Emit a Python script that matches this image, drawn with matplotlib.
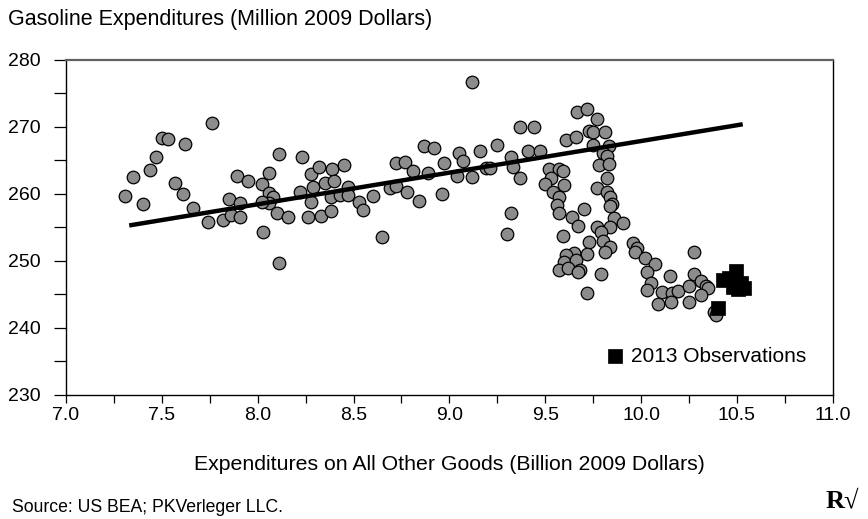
import matplotlib
matplotlib.use("Agg")
import matplotlib.pyplot as plt
from matplotlib.ticker import MultipleLocator, FormatStrFormatter

plt.rcParams['font.family'] = ['Liberation Sans', 'DejaVu Sans']

# Monthly observations: other goods spending (billion 2009 $) vs gasoline spending (million 2009 $)
other_goods = [
    7.31, 7.35, 7.40, 7.44, 7.47, 7.50, 7.53, 7.57, 7.61, 7.62,
    7.66, 7.76, 7.74, 7.82, 7.85, 7.86, 7.91, 7.91, 7.89, 7.95,
    8.02, 8.06, 8.06, 8.08, 8.06, 8.02, 8.10, 8.16, 8.03, 8.11,
    8.11, 8.23, 8.28, 8.32, 8.39, 8.45, 8.22, 8.29, 8.35, 8.40,
    8.47, 8.28, 8.38, 8.43, 8.47, 8.26, 8.33, 8.38, 8.53, 8.55,
    8.60, 8.65, 8.72, 8.77, 8.81, 8.69, 8.72, 8.78, 8.84, 8.87,
    8.92, 9.05, 9.07, 9.16, 9.25, 9.12, 9.37, 9.44, 8.97, 8.89,
    9.04, 9.12, 9.19, 9.21, 9.32, 9.33, 9.37, 9.41, 9.47, 8.96,
    9.32, 9.30, 9.665, 9.72, 9.77, 9.73, 9.75, 9.81, 9.61, 9.66,
    9.75, 9.83, 9.80, 9.82, 9.78, 9.83, 9.82, 9.52, 9.57, 9.59,
    9.53, 9.50, 9.60, 9.54, 9.57, 9.56, 9.57, 9.64, 9.70, 9.67,
    9.59, 9.77, 9.82, 9.84, 9.85, 9.84, 9.86, 9.905, 9.84, 9.77,
    9.79, 9.73, 9.80, 9.84, 9.81, 9.72, 9.65, 9.61, 9.60, 9.66,
    9.57, 9.62, 9.68, 9.67, 9.79, 9.72, 9.96, 9.98, 9.97, 10.02,
    10.07, 10.03, 10.05, 10.03, 10.15, 10.275, 10.11, 10.16, 10.19, 10.09,
    10.155, 10.25, 10.25, 10.275, 10.31, 10.34, 10.35, 10.31, 10.38, 10.39,
]
gasoline = [
    259.7, 262.5, 258.5, 263.6, 265.5, 268.4, 268.2, 261.6, 260.0, 267.5,
    257.9, 270.6, 255.8, 256.1, 259.3, 256.9, 256.6, 258.7, 262.7, 261.9,
    261.5, 263.1, 260.1, 259.6, 258.7, 258.8, 257.2, 256.6, 254.3, 249.7,
    266.0, 265.5, 263.0, 264.0, 263.7, 264.3, 260.3, 261.0, 261.6, 261.9,
    261.0, 258.8, 259.6, 259.9, 259.9, 256.6, 256.7, 257.5, 258.8, 257.6,
    259.7, 253.6, 264.6, 264.8, 263.4, 260.9, 261.2, 260.3, 259.0, 267.2,
    266.9, 266.1, 264.9, 266.4, 267.3, 276.7, 270.0, 270.0, 264.6, 263.1,
    262.7, 262.5, 263.9, 263.9, 265.5, 264.0, 262.4, 266.4, 266.4, 260.0,
    257.2, 254.0, 272.2, 272.7, 271.2, 269.4, 269.3, 269.3, 268.1, 268.5,
    267.3, 267.2, 266.1, 265.7, 264.3, 264.5, 262.4, 263.7, 263.7, 263.4,
    262.4, 261.5, 261.3, 260.3, 259.6, 258.4, 257.2, 256.6, 257.8, 255.2,
    253.7, 260.9, 260.3, 259.6, 258.5, 258.2, 256.4, 255.7, 255.1, 255.1,
    254.3, 252.8, 253.0, 252.1, 251.3, 251.0, 251.2, 250.9, 249.9, 250.1,
    248.7, 249.0, 248.7, 248.4, 248.1, 245.2, 252.7, 251.9, 251.3, 250.4,
    249.6, 248.4, 246.7, 245.7, 247.8, 251.3, 245.4, 245.2, 245.5, 243.6,
    243.9, 246.3, 243.9, 248.1, 247.0, 246.3, 246.0, 244.9, 242.4, 241.9,
]

# 2013 observations
other_goods_2013 = [10.426, 10.458, 10.494, 10.478, 10.505, 10.536, 10.520, 10.400]
gasoline_2013 = [247.2, 247.5, 248.5, 246.1, 245.8, 246.0, 246.7, 243.0]

# Fitted trend line end points
trend_x = [7.33, 10.53]
trend_y = [255.3, 270.4]

fig = plt.figure(figsize=(8.68, 5.19), dpi=100)
ax = fig.add_axes([0.076, 0.239, 0.8835, 0.6455])

ax.scatter(other_goods, gasoline, s=82, c='#8c8c8c', edgecolors='black',
           linewidths=0.9, zorder=3)
ax.plot(trend_x, trend_y, color='black', lw=3.2, solid_capstyle='butt', zorder=4)
sq = ax.scatter(other_goods_2013, gasoline_2013, s=90, marker='s', c='black',
                edgecolors='black', linewidths=0.5, zorder=5,
                label='2013 Observations')

ax.set_xlim(7.0, 11.0)
ax.set_ylim(230, 280)
ax.xaxis.set_major_locator(MultipleLocator(0.5))
ax.xaxis.set_minor_locator(MultipleLocator(0.25))
ax.xaxis.set_major_formatter(FormatStrFormatter('%.1f'))
ax.yaxis.set_major_locator(MultipleLocator(10))
ax.yaxis.set_minor_locator(MultipleLocator(5))

ax.tick_params(axis='x', which='both', direction='out', length=6, width=0.9,
               labelsize=14, pad=3, colors='black')
ax.tick_params(axis='y', which='both', direction='out', length=9, width=0.9,
               labelsize=14, pad=9)

for side in ['left', 'bottom', 'right']:
    ax.spines[side].set_color('black')
    ax.spines[side].set_linewidth(1.0)
ax.spines['top'].set_color('#606060')
ax.spines['top'].set_linewidth(1.6)

ax.set_xlabel('Expenditures on All Other Goods (Billion 2009 Dollars)',
              fontsize=15.3, labelpad=22)

leg = ax.legend(handles=[sq], loc='center left', bbox_to_anchor=(0.692, 0.116),
                frameon=False, fontsize=15, handletextpad=0.25,
                borderaxespad=0, handlelength=1.0, scatterpoints=1)

fig.text(0.009, 0.962, 'Gasoline Expenditures (Million 2009 Dollars)',
         fontsize=15.5, ha='left', va='center')
fig.text(0.014, 0.023, 'Source: US BEA; PKVerleger LLC.',
         fontsize=12.7, ha='left', va='center')
fig.text(0.99, 0.035, 'R\u221a', fontsize=19, fontweight='bold',
         family=['Liberation Serif', 'DejaVu Serif'], ha='right', va='center')

fig.savefig('out.png', dpi=100)
